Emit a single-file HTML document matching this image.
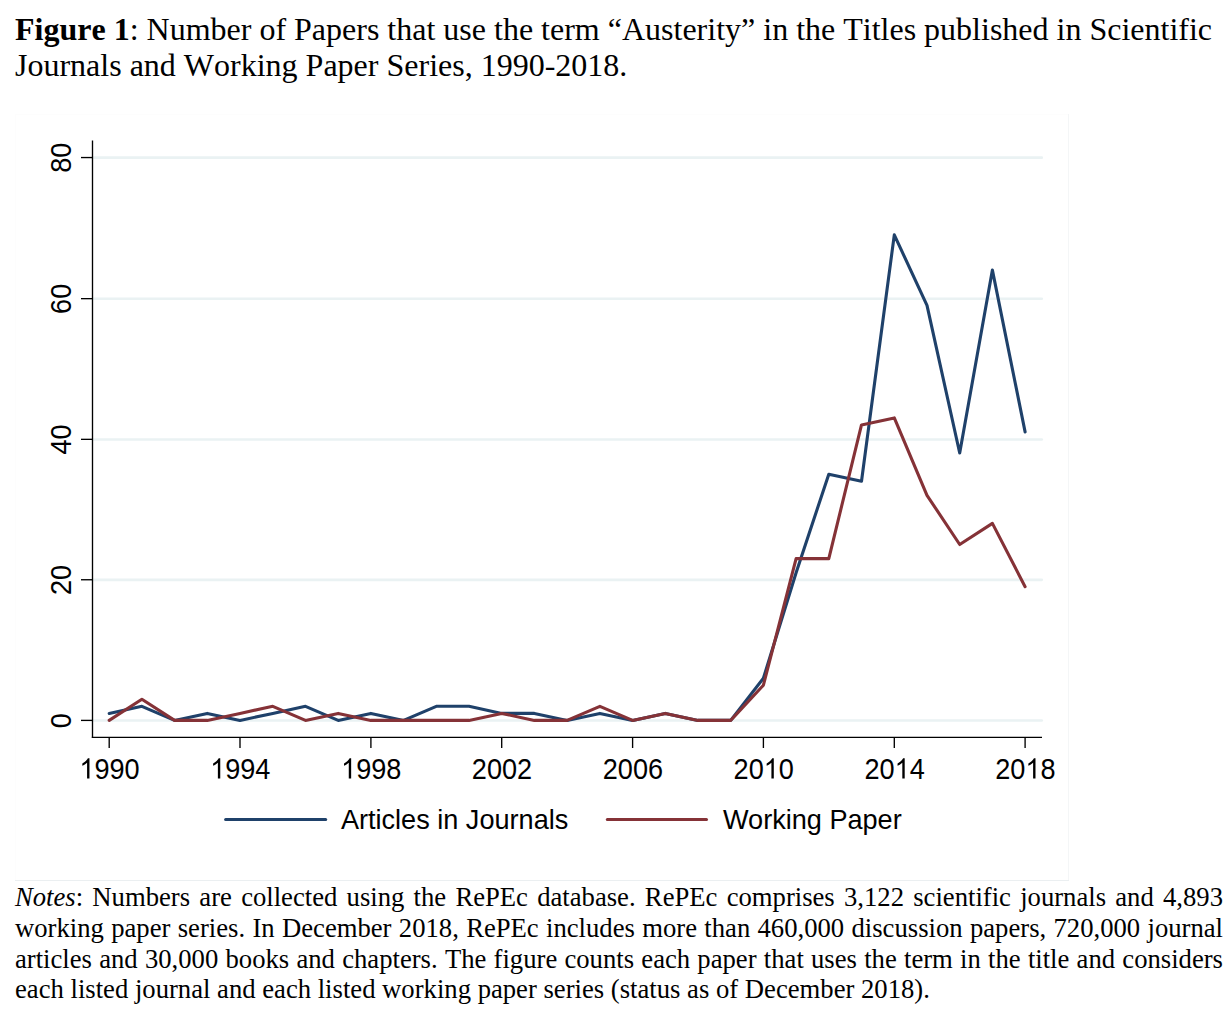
<!DOCTYPE html>
<html><head><meta charset="utf-8"><title>Figure 1</title>
<style>
html,body{margin:0;padding:0;background:#fff;}
body{width:1232px;height:1014px;position:relative;overflow:hidden;font-family:"Liberation Serif",serif;color:#000;}
.ax{font-family:"Liberation Sans",sans-serif;font-size:27.1px;fill:#000;}
.lg{font-family:"Liberation Sans",sans-serif;font-size:27.1px;fill:#000;}
#title{position:absolute;left:15px;top:11px;width:1215px;font-size:32px;line-height:36px;white-space:nowrap;font-kerning:none;}
#notes{position:absolute;left:15px;top:0;width:1208px;font-size:26.67px;line-height:30px;font-kerning:none;}
#notes span{position:absolute;left:0;width:1208px;display:block;white-space:nowrap;}
#notes .l{text-align:justify;text-align-last:justify;}
#notes .last{text-align:left;}
</style></head><body>
<svg width="1232" height="1014" viewBox="0 0 1232 1014" style="position:absolute;left:0;top:0">
<path d="M15.5 880 V114.5 H1068" fill="none" stroke="#fdfdfd" stroke-width="1"/>
<path d="M1068.5 114 V880" fill="none" stroke="#f4f6f7" stroke-width="1"/>
<path d="M15 880.5 H1069" fill="none" stroke="#ebeff1" stroke-width="1"/>
<line x1="92.5" x2="1041.8" y1="720.50" y2="720.50" stroke="#eaf2f3" stroke-width="2.6" stroke-linecap="round"/>
<line x1="92.5" x2="1041.8" y1="579.85" y2="579.85" stroke="#eaf2f3" stroke-width="2.6" stroke-linecap="round"/>
<line x1="92.5" x2="1041.8" y1="439.45" y2="439.45" stroke="#eaf2f3" stroke-width="2.6" stroke-linecap="round"/>
<line x1="92.5" x2="1041.8" y1="298.75" y2="298.75" stroke="#eaf2f3" stroke-width="2.6" stroke-linecap="round"/>
<line x1="92.5" x2="1041.8" y1="157.65" y2="157.65" stroke="#eaf2f3" stroke-width="2.6" stroke-linecap="round"/>
<polyline points="109.2,713.4 141.9,706.3 174.6,720.4 207.3,713.4 240.0,720.4 272.8,713.4 305.5,706.3 338.2,720.4 370.9,713.4 403.6,720.4 436.3,706.3 469.0,706.3 501.7,713.4 534.4,713.4 567.1,720.4 599.9,713.4 632.6,720.4 665.3,713.4 698.0,720.4 730.7,720.4 763.4,678.2 796.1,572.7 828.8,474.2 861.5,481.2 894.3,234.9 927.0,305.3 959.7,453.0 992.4,270.1 1025.1,431.9" fill="none" stroke="#1f416a" stroke-width="3.1" stroke-linejoin="round" stroke-linecap="round"/>
<polyline points="109.2,720.4 141.9,699.3 174.6,720.4 207.3,720.4 240.0,713.4 272.8,706.3 305.5,720.4 338.2,713.4 370.9,720.4 403.6,720.4 436.3,720.4 469.0,720.4 501.7,713.4 534.4,720.4 567.1,720.4 599.9,706.3 632.6,720.4 665.3,713.4 698.0,720.4 730.7,720.4 763.4,685.2 796.1,558.6 828.8,558.6 861.5,424.9 894.3,417.9 927.0,495.3 959.7,544.5 992.4,523.4 1025.1,586.7" fill="none" stroke="#853237" stroke-width="3.1" stroke-linejoin="round" stroke-linecap="round"/>
<line x1="92.5" x2="92.5" y1="140.6" y2="738.0749999999999" stroke="#000" stroke-width="1.35"/>
<line x1="91.825" x2="1042" y1="737.4" y2="737.4" stroke="#000" stroke-width="1.35"/>
<line x1="81" x2="92.5" y1="720.40" y2="720.40" stroke="#000" stroke-width="1.35"/>
<g transform="translate(70.8,720.60) rotate(-90) scale(1,1.08)"><text x="-7.54" y="0" class="ax">0</text></g>
<line x1="81" x2="92.5" y1="579.75" y2="579.75" stroke="#000" stroke-width="1.35"/>
<g transform="translate(70.8,579.95) rotate(-90) scale(1,1.08)"><text x="-15.07" y="0" class="ax">20</text></g>
<line x1="81" x2="92.5" y1="439.35" y2="439.35" stroke="#000" stroke-width="1.35"/>
<g transform="translate(70.8,439.55) rotate(-90) scale(1,1.08)"><text x="-15.07" y="0" class="ax">40</text></g>
<line x1="81" x2="92.5" y1="298.65" y2="298.65" stroke="#000" stroke-width="1.35"/>
<g transform="translate(70.8,298.85) rotate(-90) scale(1,1.08)"><text x="-15.07" y="0" class="ax">60</text></g>
<line x1="81" x2="92.5" y1="157.55" y2="157.55" stroke="#000" stroke-width="1.35"/>
<g transform="translate(70.8,157.75) rotate(-90) scale(1,1.08)"><text x="-15.07" y="0" class="ax">80</text></g>
<line x1="109.2" x2="109.2" y1="737.4" y2="748" stroke="#000" stroke-width="1.35"/>
<g transform="translate(109.5,778.5) scale(1,1.08)"><path d="M763 0H583V1147Q518 1085 412.5 1023T223 930V1104Q374 1175 487 1276T647 1472H763Z" transform="translate(-30.14,0) scale(0.013232,-0.012666)" fill="#000"/><text x="-15.07" y="0" class="ax">990</text></g>
<line x1="240.0" x2="240.0" y1="737.4" y2="748" stroke="#000" stroke-width="1.35"/>
<g transform="translate(240.3,778.5) scale(1,1.08)"><path d="M763 0H583V1147Q518 1085 412.5 1023T223 930V1104Q374 1175 487 1276T647 1472H763Z" transform="translate(-30.14,0) scale(0.013232,-0.012666)" fill="#000"/><text x="-15.07" y="0" class="ax">994</text></g>
<line x1="370.9" x2="370.9" y1="737.4" y2="748" stroke="#000" stroke-width="1.35"/>
<g transform="translate(371.2,778.5) scale(1,1.08)"><path d="M763 0H583V1147Q518 1085 412.5 1023T223 930V1104Q374 1175 487 1276T647 1472H763Z" transform="translate(-30.14,0) scale(0.013232,-0.012666)" fill="#000"/><text x="-15.07" y="0" class="ax">998</text></g>
<line x1="501.7" x2="501.7" y1="737.4" y2="748" stroke="#000" stroke-width="1.35"/>
<g transform="translate(502.0,778.5) scale(1,1.08)"><text x="-30.14" y="0" class="ax">2002</text></g>
<line x1="632.6" x2="632.6" y1="737.4" y2="748" stroke="#000" stroke-width="1.35"/>
<g transform="translate(632.9,778.5) scale(1,1.08)"><text x="-30.14" y="0" class="ax">2006</text></g>
<line x1="763.4" x2="763.4" y1="737.4" y2="748" stroke="#000" stroke-width="1.35"/>
<g transform="translate(763.7,778.5) scale(1,1.08)"><text x="-30.14" y="0" class="ax">20</text><path d="M763 0H583V1147Q518 1085 412.5 1023T223 930V1104Q374 1175 487 1276T647 1472H763Z" transform="translate(0.00,0) scale(0.013232,-0.012666)" fill="#000"/><text x="15.07" y="0" class="ax">0</text></g>
<line x1="894.3" x2="894.3" y1="737.4" y2="748" stroke="#000" stroke-width="1.35"/>
<g transform="translate(894.6,778.5) scale(1,1.08)"><text x="-30.14" y="0" class="ax">20</text><path d="M763 0H583V1147Q518 1085 412.5 1023T223 930V1104Q374 1175 487 1276T647 1472H763Z" transform="translate(0.00,0) scale(0.013232,-0.012666)" fill="#000"/><text x="15.07" y="0" class="ax">4</text></g>
<line x1="1025.1" x2="1025.1" y1="737.4" y2="748" stroke="#000" stroke-width="1.35"/>
<g transform="translate(1025.4,778.5) scale(1,1.08)"><text x="-30.14" y="0" class="ax">20</text><path d="M763 0H583V1147Q518 1085 412.5 1023T223 930V1104Q374 1175 487 1276T647 1472H763Z" transform="translate(0.00,0) scale(0.013232,-0.012666)" fill="#000"/><text x="15.07" y="0" class="ax">8</text></g>
<line x1="225.6" x2="325.7" y1="819.5" y2="819.5" stroke="#1f416a" stroke-width="3" stroke-linecap="round"/>
<text x="340.9" y="829" class="lg">Articles in Journals</text>
<line x1="607.3" x2="706.5" y1="819.5" y2="819.5" stroke="#853237" stroke-width="3" stroke-linecap="round"/>
<text x="723" y="829" class="lg">Working Paper</text>
</svg>
<div id="title"><b>Figure 1</b>: Number of Papers that use the term “Austerity” in the Titles published in Scientific<br>Journals and Working Paper Series, 1990-2018.</div>
<div id="notes"><span class="l" style="top:882px"><i>Notes</i>: Numbers are collected using the RePEc database. RePEc comprises 3,122 scientific journals and 4,893</span><span class="l" style="top:913px">working paper series. In December 2018, RePEc includes more than 460,000 discussion papers, 720,000 journal</span><span class="l" style="top:944px">articles and 30,000 books and chapters. The figure counts each paper that uses the term in the title and considers</span><span class="last" style="top:974px">each listed journal and each listed working paper series (status as of December 2018).</span></div>
</body></html>
